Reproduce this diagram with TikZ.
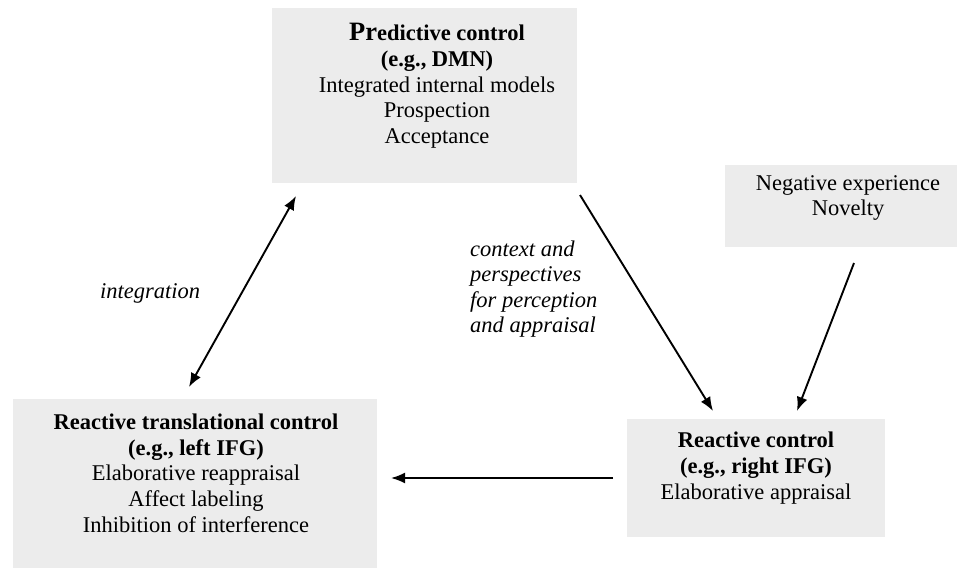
\documentclass[tikz,border=0pt]{standalone}
\usepackage{fontspec}
\setmainfont{Liberation Serif}
\usetikzlibrary{arrows.meta}
\definecolor{boxgray}{RGB}{236,236,236}
\tikzset{
  box/.style={fill=boxgray, draw=none, inner sep=0pt, anchor=north west},
  txt/.style={align=center, inner sep=0pt, font=\fontsize{22.5}{25.7}\selectfont},
  lbl/.style={inner sep=0pt, font=\fontsize{22.5}{25.4}\selectfont\itshape},
  arr/.style={line width=1.9pt, -{Latex[length=14pt,width=11pt]}},
  darr/.style={line width=1.9pt, {Latex[length=14pt,width=11pt]}-{Latex[length=14pt,width=11pt]}}
}
\begin{document}
\begin{tikzpicture}[x=1pt,y=-1pt]
\useasboundingbox (0,0) rectangle (961,571);
% boxes
\node[box, minimum width=305pt, minimum height=175pt] (topbox) at (272,8) {};
\node[box, minimum width=232pt, minimum height=82pt] (negbox) at (725,165) {};
\node[box, minimum width=364pt, minimum height=169pt] (leftbox) at (13,399) {};
\node[box, minimum width=258pt, minimum height=118pt] (rightbox) at (627,419) {};
% texts
\node[txt] (toptext) at (437,86) {\textbf{{\fontsize{26.5}{25.7}\selectfont Pr}edictive control}\\ \textbf{(e.g., DMN)}\\ Integrated internal models\\ Prospection\\ Acceptance};
\node[txt] (negtext) at (848,198) {Negative experience\\ Novelty};
\node[txt] (lefttext) at (196,473) {\textbf{Reactive translational control}\\ \textbf{(e.g., left IFG)}\\ Elaborative reappraisal\\ Affect labeling\\ Inhibition of interference};
\node[txt] (righttext) at (756,468) {\textbf{Reactive control}\\ \textbf{(e.g., right IFG)}\\ Elaborative appraisal};
% labels
\node[lbl] (integ) at (150,293) {integration};
\node[lbl, align=left, anchor=west] (ctx) at (470,289) {context and\\ perspectives\\ for perception\\ and appraisal};
% connector ends
\coordinate (i1) at (189,387);
\coordinate (i2) at (296,196);
\coordinate (c1) at (580,195);
\coordinate (c2) at (713,411);
\coordinate (n1) at (854,263);
\coordinate (n2) at (797,411);
\coordinate (h1) at (613,478);
\coordinate (h2) at (391,478);
% connectors
\draw[darr] (i1) -- (i2);
\draw[arr] (c1) -- (c2);
\draw[arr] (n1) -- (n2);
\draw[arr] (h1) -- (h2);
\end{tikzpicture}
\end{document}
